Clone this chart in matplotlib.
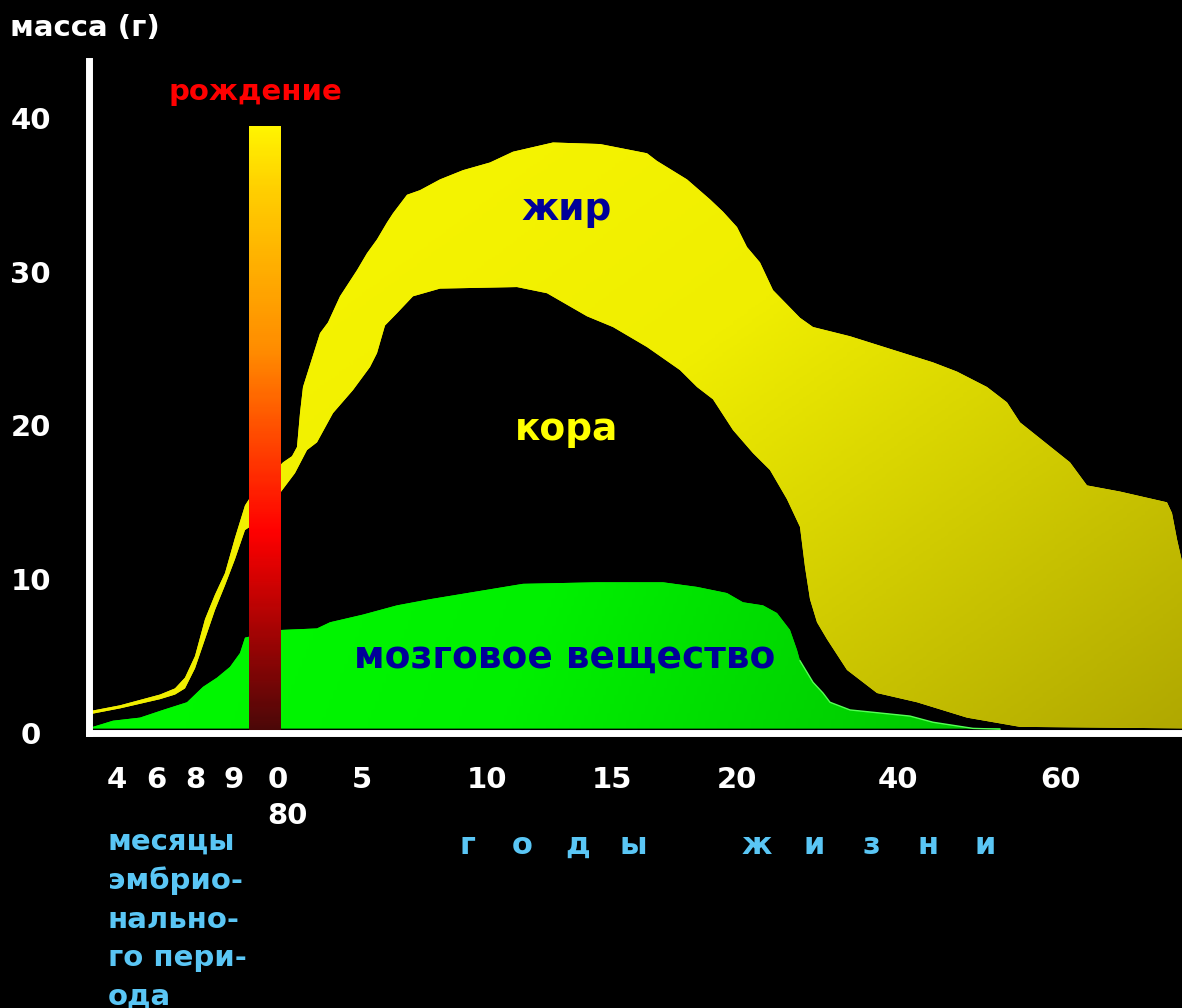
import numpy as np
import matplotlib.pyplot as plt
from matplotlib.colors import LinearSegmentedColormap

# x: position along the (non-linear) age axis, y: mass in grams
fat_x = [88, 120, 160, 175, 185, 195, 205, 215, 225, 235, 245, 252, 283, 292, 297, 300,
         303, 320, 328, 340, 357, 367, 377, 387, 393, 407, 420, 440, 463, 490, 513, 553,
         600, 647, 657, 687, 710, 723, 737, 747, 760, 773, 800, 813, 850, 933, 957, 987,
         1007, 1020, 1070, 1087, 1120, 1167, 1172, 1177, 1185]
fat_y = [1.4, 1.8, 2.5, 2.9, 3.6, 5.0, 7.4, 9.0, 10.4, 12.7, 14.8, 15.5, 17.6, 18.0, 18.6, 20.8,
         22.5, 26.0, 26.7, 28.4, 30.1, 31.2, 32.1, 33.2, 33.8, 35.0, 35.3, 36.0, 36.6, 37.1, 37.8, 38.4,
         38.3, 37.7, 37.2, 36.0, 34.7, 33.9, 32.9, 31.6, 30.6, 28.8, 27.0, 26.4, 25.8, 24.1, 23.5, 22.5,
         21.5, 20.2, 17.6, 16.1, 15.7, 15.0, 14.3, 12.6, 10.3]

cortex_x = [88, 120, 160, 175, 185, 195, 205, 215, 225, 235, 245, 252, 280, 295, 307, 317,
            333, 353, 370, 377, 385, 397, 413, 440, 517, 547, 587, 613, 647, 680, 697, 713,
            733, 753, 770, 787, 800, 805, 810, 817, 827, 847, 863, 877, 917, 967, 1020, 1185]
cortex_y = [1.2, 1.6, 2.2, 2.5, 2.9, 4.2, 6.1, 8.0, 9.6, 11.3, 13.2, 13.5, 15.6, 16.9, 18.4, 18.9,
            20.8, 22.3, 23.8, 24.7, 26.5, 27.3, 28.4, 28.9, 29.0, 28.6, 27.1, 26.4, 25.1, 23.6, 22.5, 21.7,
            19.7, 18.2, 17.1, 15.2, 13.4, 10.8, 8.7, 7.2, 6.1, 4.1, 3.3, 2.6, 2.0, 1.0, 0.4, 0.3]

brain_x = [93, 113, 140, 163, 187, 203, 217, 230, 240, 245, 265, 281, 317, 330, 363, 397,
           430, 523, 597, 663, 697, 727, 743, 763, 777, 790, 797, 800, 813, 823, 830, 850,
           910, 933, 973, 1000]
brain_y = [0.4, 0.8, 1.0, 1.5, 2.0, 3.0, 3.6, 4.3, 5.2, 6.2, 6.5, 6.7, 6.8, 7.2, 7.7, 8.3,
           8.7, 9.7, 9.8, 9.8, 9.5, 9.1, 8.5, 8.3, 7.8, 6.7, 5.4, 4.7, 3.3, 2.6, 2.0, 1.5,
           1.1, 0.7, 0.3, 0.25]

birth_x = 265
birth_mass = 39.5

tick_pos = [117, 156, 195, 234, 287.5, 362, 487, 612, 737, 898, 1060]
tick_labels = ['4', '6', '8', '9', '0\n80', '5', '10', '15', '20', '40', '60']
y_ticks = [0, 10, 20, 30, 40]

years_word = 'годы'
life_word = 'жизни'
fetal_note = 'месяцы\nэмбрио-\nнально-\nго пери-\nода'

fig = plt.figure(figsize=(11.82, 10.08), dpi=100, facecolor='black')
ax = fig.add_axes([89 / 1182, 275 / 1008, 1 - 89 / 1182, 672 / 1008])
ax.set_facecolor('black')

ax_x0, ax_x1, y_top = 89, 1182, 43.7


def gradient(ax, clip, cmap, mode, z):
    # gradient image clipped to a shape
    gx, gy = np.meshgrid(np.linspace(0, 1, 300), np.linspace(0, 1, 300))
    if mode == 'diag':
        t = 0.55 * gx + 0.45 * (1 - gy)
        ext = [ax_x0, ax_x1, 0, y_top]
    elif mode == 'green':
        t = 0.8 * gx + 0.2 * (1 - gy)
        ext = [ax_x0, ax_x1, 0, y_top]
    else:
        t = gy
        ext = [ax_x0, ax_x1, 0, birth_mass]
    im = ax.imshow(t, extent=ext, origin='lower', aspect='auto', cmap=cmap,
                   vmin=0, vmax=1, zorder=z)
    im.set_clip_path(clip)
    return im


yellow_cmap = LinearSegmentedColormap.from_list('y', ['#fafa00', '#f0ee00', '#b0a800'])
green_cmap = LinearSegmentedColormap.from_list('g', ['#00ff00', '#00f000', '#00b400'])
bar_cmap = LinearSegmentedColormap.from_list(
    'b', [(0, '#4a0808'), (0.33, '#ff0000'), (0.63, '#ff8c00'), (0.9, '#ffd000'), (1, '#fff500')])

yx = np.r_[fat_x, cortex_x[::-1]]
yy = np.r_[fat_y, cortex_y[::-1]]
fat_poly = ax.fill(yx, yy, color='#e8e600', lw=0, zorder=2)[0]
gradient(ax, fat_poly, yellow_cmap, 'diag', 2.1)

gx_ = np.r_[brain_x[0], brain_x, brain_x[-1]]
gy_ = np.r_[0.3, brain_y, 0.3]
brain_poly = ax.fill(gx_, gy_, color='#00e000', lw=0, zorder=3)[0]
gradient(ax, brain_poly, green_cmap, 'green', 3.1)
ax.plot(brain_x[27:], brain_y[27:], color='#55ff55', lw=1.0, zorder=3.2)

bar = ax.bar([birth_x], [birth_mass], width=32, color='#ff0000', lw=0, zorder=4)[0]
gradient(ax, bar, bar_cmap, 'bar', 4.1)

ax.set_xlim(ax_x0, ax_x1)
ax.set_ylim(0, y_top)

for side in ['top', 'right']:
    ax.spines[side].set_visible(False)
for side in ['left', 'bottom']:
    ax.spines[side].set_color('white')
    ax.spines[side].set_linewidth(5)
    ax.spines[side].set_zorder(6)

ax.set_xticks(tick_pos)
ax.set_xticklabels(tick_labels, fontsize=21, fontweight='bold', color='white',
                   multialignment='left', linespacing=1.35)
ax.set_yticks(y_ticks)
ax.set_yticklabels([str(v) for v in y_ticks], fontsize=21, fontweight='bold', color='white')
for lbl in ax.get_yticklabels():
    lbl.set_ha('center')
ax.tick_params(axis='x', length=0, pad=24)
ax.tick_params(axis='y', length=0, pad=42)

ax.text(567, 34.0, 'жир', color='#000099', fontsize=27, fontweight='bold',
        ha='center', va='center', zorder=7)
ax.text(567, 19.7, 'кора', color='#ffff00', fontsize=27, fontweight='bold',
        ha='center', va='center', zorder=7)
ax.text(565, 4.9, 'мозговое вещество', color='#000099', fontsize=27, fontweight='bold',
        ha='center', va='center', zorder=7)
ax.text(255, 41.7, 'рождение', color='#ff0000', fontsize=21, fontweight='bold',
        ha='center', va='center', zorder=7)

fig.text(10 / 1182, 1 - 28 / 1008, 'масса (г)', color='white', fontsize=21,
         fontweight='bold', ha='left', va='center')

blue = '#5ac6f5'
fig.text(108 / 1182, 1 - 828 / 1008, fetal_note, color=blue, fontsize=21,
         fontweight='bold', ha='left', va='top', linespacing=1.47)

for i, ch in enumerate(years_word):
    fig.text((467 + 55.3 * i) / 1182, 1 - 845 / 1008, ch, color=blue, fontsize=22,
             fontweight='bold', ha='center', va='center')
for i, ch in enumerate(life_word):
    fig.text((757 + 57 * i) / 1182, 1 - 845 / 1008, ch, color=blue, fontsize=22,
             fontweight='bold', ha='center', va='center')

fig.savefig('out.png', dpi=100, facecolor='black')
